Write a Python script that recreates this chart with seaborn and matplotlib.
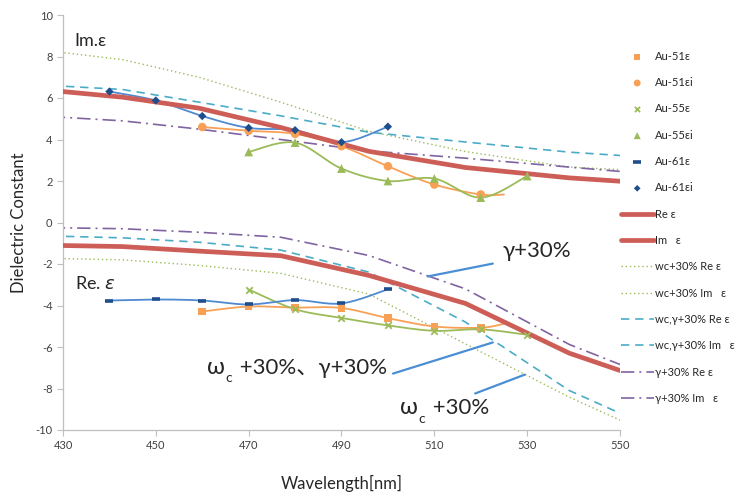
import numpy as np
import matplotlib
matplotlib.use("Agg")
import matplotlib.pyplot as plt
from matplotlib.transforms import offset_copy
import seaborn as sns

# measured data (wavelength in nm)
wl_au51 = [460, 470, 480, 490, 500, 510, 520]
au51_re = [-4.29, -4.05, -4.10, -4.12, -4.61, -5.01, -5.07]
au51_im = [4.60, 4.42, 4.27, 3.68, 2.71, 1.83, 1.35]
au51_tail_wl = 525
au51_re_tail = -4.88
au51_im_tail = 1.35

wl_au55 = [470, 480, 490, 500, 510, 520, 530]
au55_re = [-3.23, -4.18, -4.60, -4.96, -5.22, -5.15, -5.41]
au55_im = [3.40, 3.85, 2.60, 2.00, 2.12, 1.20, 2.24]

wl_au61 = [440, 450, 460, 470, 480, 490, 500]
au61_re = [-3.76, -3.71, -3.76, -3.95, -3.74, -3.90, -3.22]
au61_im = [6.31, 5.88, 5.13, 4.56, 4.45, 3.87, 4.62]

# model curves
model_wl = [427.6, 442.8, 459.3, 476.9, 495.9, 516.7, 539.1, 563.6]
re_eps = [-1.10, -1.16, -1.38, -1.60, -2.55, -3.90, -6.30, -8.17]
im_eps = [6.36, 6.04, 5.51, 4.58, 3.43, 2.65, 2.15, 1.79]
wc_re = [-1.73, -1.80, -2.07, -2.45, -3.45, -5.85, -8.42, -10.90]
wc_im = [8.25, 7.85, 7.00, 5.80, 4.40, 3.42, 2.67, 2.40]
wcg_re = [-0.65, -0.74, -0.95, -1.33, -2.39, -4.80, -8.10, -10.55]
wcg_im = [6.60, 6.41, 5.80, 5.14, 4.35, 3.88, 3.39, 3.03]
g_re = [-0.25, -0.30, -0.47, -0.71, -1.59, -3.20, -5.88, -8.04]
g_im = [5.10, 4.90, 4.50, 4.00, 3.45, 3.10, 2.67, 2.20]


def smooth(x, y, n=24):
    # catmull-rom like the excel "smoothed line"
    p = np.column_stack([x, y]).astype(float)
    p = np.vstack([p[0], p, p[-1]])
    out = []
    t = np.linspace(0, 1, n)[:, None]
    for i in range(1, len(p) - 2):
        p0, p1, p2, p3 = p[i - 1], p[i], p[i + 1], p[i + 2]
        seg = 0.5 * (2 * p1 + (-p0 + p2) * t + (2 * p0 - 5 * p1 + 4 * p2 - p3) * t ** 2
                     + (-p0 + 3 * p1 - 3 * p2 + p3) * t ** 3)
        out.append(seg)
    out = np.vstack(out)
    return out[:, 0], out[:, 1]


sns.set_theme(style="white")
plt.rcParams['font.family'] = ['Lato', 'DejaVu Sans', 'Noto Sans CJK JP']
plt.rcParams['axes.unicode_minus'] = False

fig = plt.figure(figsize=(7.43, 5.0), dpi=100)
ax = fig.add_axes([63 / 743, 70 / 500, 557 / 743, 415 / 500])

orange = "#F8A156"
green = "#9BBB59"
blue_line = "#4F8AD0"
blue_mk = "#1F4E8C"
red = "#CD5E57"
cyan = "#4BACC6"
purple = "#8064A2"

# measured lines (smoothed)
for xs, ys, c in [
    (wl_au51 + [au51_tail_wl], au51_re + [au51_re_tail], orange),
    (wl_au51 + [au51_tail_wl], au51_im + [au51_im_tail], orange),
    (wl_au55, au55_re, green),
    (wl_au55, au55_im, green),
    (wl_au61, au61_re, blue_line),
    (wl_au61, au61_im, blue_line),
]:
    sx, sy = smooth(xs, ys)
    sns.lineplot(x=sx, y=sy, sort=False, estimator=None, color=c, lw=1.3, ax=ax, zorder=3)

# measured markers
sns.scatterplot(x=wl_au51, y=au51_re, marker="s", s=30, color=orange, edgecolor="none",
                label="Au-51ε", ax=ax, zorder=5)
sns.scatterplot(x=wl_au51, y=au51_im, marker="o", s=38, color=orange, edgecolor="none",
                label="Au-51εi", ax=ax, zorder=5)
sns.scatterplot(x=wl_au55, y=au55_re, marker="x", s=22, color=green, linewidth=1.3,
                label="Au-55ε", ax=ax, zorder=5)
sns.scatterplot(x=wl_au55, y=au55_im, marker="^", s=40, color=green, edgecolor="none",
                label="Au-55εi", ax=ax, zorder=5)
sns.scatterplot(x=wl_au61, y=au61_re, marker="_", s=40, color=blue_mk, linewidth=2.6,
                label="Au-61ε", ax=ax, zorder=5)
sns.scatterplot(x=wl_au61, y=au61_im, marker="D", s=18, color=blue_mk, edgecolor="none",
                label="Au-61εi", ax=ax, zorder=5)

# model lines
sns.lineplot(x=model_wl, y=re_eps, color=red, lw=3.4, label="Re ε", ax=ax, zorder=4)
sns.lineplot(x=model_wl, y=im_eps, color=red, lw=3.4, label="Im   ε", ax=ax, zorder=4)
sns.lineplot(x=model_wl, y=wc_re, color=green, lw=1.0, label="wc+30% Re ε",
             ax=ax, zorder=2).lines[-1].set_dashes([1, 2])
sns.lineplot(x=model_wl, y=wc_im, color=green, lw=1.0, label="wc+30% Im   ε",
             ax=ax, zorder=2).lines[-1].set_dashes([1, 2])
sns.lineplot(x=model_wl, y=wcg_re, color=cyan, lw=1.2, label="wc,γ+30% Re ε",
             ax=ax, zorder=2).lines[-1].set_dashes([5, 3.5])
sns.lineplot(x=model_wl, y=wcg_im, color=cyan, lw=1.2, label="wc,γ+30% Im   ε",
             ax=ax, zorder=2).lines[-1].set_dashes([5, 3.5])
sns.lineplot(x=model_wl, y=g_re, color=purple, lw=1.2, label="γ+30% Re ε",
             ax=ax, zorder=2).lines[-1].set_dashes([8, 3, 1.2, 3])
sns.lineplot(x=model_wl, y=g_im, color=purple, lw=1.2, label="γ+30% Im   ε",
             ax=ax, zorder=2).lines[-1].set_dashes([8, 3, 1.2, 3])

ax.set_xlim(430, 550)
ax.set_ylim(-10, 10)
ax.set_xticks(range(430, 551, 20))
ax.set_yticks(range(-10, 11, 2))
ax.tick_params(axis="both", labelsize=8, colors="#BFBFBF", labelcolor="#404040",
               length=4, width=0.8, bottom=True, left=True, direction="out")
for side in ["top", "right"]:
    ax.spines[side].set_visible(False)
for side in ["left", "bottom"]:
    ax.spines[side].set_color("#BFBFBF")
    ax.spines[side].set_linewidth(0.9)
ax.grid(False)

ax.set_xlabel("Wavelength[nm]", fontsize=12, labelpad=17, color="#262626")
ax.set_ylabel("Dielectric Constant", fontsize=12, labelpad=6, color="#262626")

# annotations
ax.text(432.5, 8.75, "Im.ε", fontsize=13, va="center", ha="left")
ax.text(432.5, -2.95, "Re. $\\varepsilon$", fontsize=13, va="center", ha="left")
ax.text(524.6, -1.35, "γ+30%", fontsize=16, va="center", ha="left")

fig.canvas.draw()
renderer = fig.canvas.get_renderer()


def omega_c_text(x, y, rest):
    # ω with a subscript c, then the rest of the string
    t1 = ax.text(x, y, "ω", fontsize=17, va="baseline", ha="left")
    w1 = t1.get_window_extent(renderer).width * 72 / fig.dpi
    tr = offset_copy(ax.transData, fig=fig, x=w1 + 0.5, y=-6, units="points")
    t2 = ax.text(x, y, "c", fontsize=10, va="baseline", ha="left", transform=tr)
    w2 = t2.get_window_extent(renderer).width * 72 / fig.dpi
    tr = offset_copy(ax.transData, fig=fig, x=w1 + w2 + 1.5, y=0, units="points")
    ax.text(x, y, rest, fontsize=16, va="baseline", ha="left", transform=tr)


omega_c_text(461.0, -7.3, " +30%、γ+30%")
omega_c_text(502.6, -9.25, " +30%")

for (x0, y0), (x1, y1) in [((508.6, -2.6), (522.6, -1.98)),
                           ((501.1, -7.28), (522.6, -5.78)),
                           ((518.8, -8.24), (529.5, -7.33))]:
    ax.plot([x0, x1], [y0, y1], color="#4A8FD4", lw=1.6, zorder=6)

handles, labels = ax.get_legend_handles_labels()
ax.legend(handles, labels, loc="upper left", bbox_to_anchor=(0.993, 0.925), frameon=False,
          fontsize=8, handlelength=3.0, handletextpad=0.1, labelspacing=1.38,
          borderaxespad=0, markerscale=0.8)

fig.savefig("out.png", dpi=100)
